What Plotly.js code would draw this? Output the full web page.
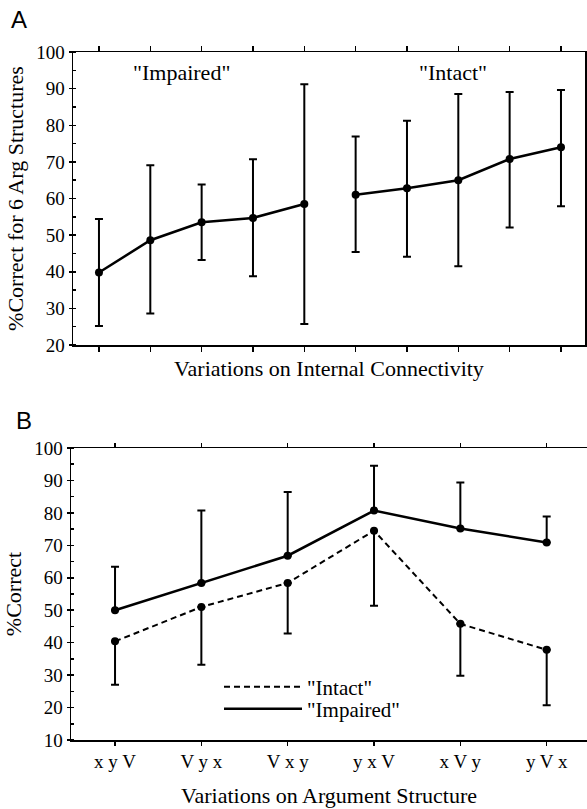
<!DOCTYPE html>
<html>
<head>
<meta charset="utf-8">
<script src="https://cdn.plot.ly/plotly-3.0.1.min.js"></script>
<style>html,body{margin:0;padding:0;background:#fff;}#chart{width:587px;height:809px;}</style>
</head>
<body>
<div id="chart"></div>
<script>
// Panel A: variations on internal connectivity (10 conditions)
const aX = [1, 2, 3, 4, 5, 6, 7, 8, 9, 10];
const aMean  = [39.8, 48.6, 53.5, 54.7, 58.5, 61.0, 62.8, 65.0, 70.8, 74.0];
const aUpper = [54.4, 69.1, 63.8, 70.7, 91.2, 76.9, 81.2, 88.5, 89.1, 89.6];
const aLower = [25.2, 28.6, 43.2, 38.8, 25.7, 45.4, 44.1, 41.5, 52.1, 57.9];
const aGroups = ['"Impaired"', '"Intact"'];

// Panel B: variations on argument structure
const bCats = ['x y V', 'V y x', 'V x y', 'y x V', 'x V y', 'y V x'];
const bImpaired      = [50.0, 58.4, 66.8, 80.7, 75.2, 70.9];
const bImpairedUpper = [63.4, 80.7, 86.4, 94.5, 89.4, 78.9];
const bIntact        = [40.4, 51.0, 58.4, 74.5, 45.8, 37.8];
const bIntactLower   = [27.0, 33.2, 42.8, 51.4, 29.8, 20.7];
const bNames = ['"Intact"', '"Impaired"'];

const serif = 'Liberation Serif, Times New Roman, serif';
const sans = 'Liberation Sans, Arial, sans-serif';
const sub = (a, b) => a.map((v, i) => v - b[i]);
const zeros = n => new Array(n).fill(0);
const intactDash = '6px,4px';

function aTrace(i0, i1) {
  const m = aMean.slice(i0, i1);
  return {
    x: aX.slice(i0, i1), y: m, xaxis: 'x', yaxis: 'y',
    mode: 'lines+markers', showlegend: false,
    line: {color: '#000', width: 2.5},
    marker: {color: '#000', size: 8},
    error_y: {type: 'data', symmetric: false,
      array: sub(aUpper.slice(i0, i1), m),
      arrayminus: sub(m, aLower.slice(i0, i1)),
      color: '#000', thickness: 2, width: 4}
  };
}

const traces = [
  aTrace(0, 5),
  aTrace(5, 10),
  {
    x: bCats, y: bIntact, xaxis: 'x2', yaxis: 'y2', name: bNames[0], showlegend: false,
    mode: 'lines+markers',
    line: {color: '#000', width: 2, dash: intactDash},
    marker: {color: '#000', size: 8},
    error_y: {type: 'data', symmetric: false,
      array: zeros(bIntact.length), arrayminus: sub(bIntact, bIntactLower),
      color: '#000', thickness: 2, width: 4}
  },
  {
    x: bCats, y: bImpaired, xaxis: 'x2', yaxis: 'y2', name: bNames[1], showlegend: false,
    mode: 'lines+markers',
    line: {color: '#000', width: 2.5},
    marker: {color: '#000', size: 8},
    error_y: {type: 'data', symmetric: false,
      array: sub(bImpairedUpper, bImpaired), arrayminus: zeros(bImpaired.length),
      color: '#000', thickness: 2, width: 4}
  },
  // legend entries (line samples only, as in the original key)
  {x: [null], y: [null], xaxis: 'x2', yaxis: 'y2', name: bNames[0], mode: 'lines',
   line: {color: '#000', width: 2, dash: intactDash}, legend: 'legend'},
  {x: [null], y: [null], xaxis: 'x2', yaxis: 'y2', name: bNames[1], mode: 'lines',
   line: {color: '#000', width: 2.5}, legend: 'legend2'}
];

const W = 587, H = 809;
const tickFont = {family: serif, size: 19, color: '#000'};
const titleFont = {family: serif, size: 22, color: '#000'};
const yCommon = {
  showgrid: false, zeroline: false, showline: true, linecolor: '#000', linewidth: 1.5,
  ticks: 'outside', ticklen: 3, tickwidth: 1.5, tickcolor: '#000', dtick: 10,
  tickfont: tickFont,
  minor: {dtick: 5, ticks: 'inside', ticklen: 3, tickwidth: 1.5, tickcolor: '#000'}
};
const legendBase = {
  xanchor: 'left', yanchor: 'middle', bgcolor: 'rgba(0,0,0,0)', itemwidth: 78,
  borderwidth: 0, font: {family: serif, size: 21, color: '#000'}
};

const layout = {
  width: W, height: H,
  margin: {l: 0, r: 0, t: 0, b: 0},
  paper_bgcolor: '#fff', plot_bgcolor: '#fff',
  font: {family: serif, color: '#000'},
  showlegend: true,
  legend: Object.assign({}, legendBase, {x: 219 / W, y: 1 - 687 / H}),
  legend2: Object.assign({}, legendBase, {x: 219 / W, y: 1 - 709 / H}),
  xaxis: {
    domain: [73 / W, 585 / W], range: [0.494, 10.468],
    tickvals: aX, showticklabels: false,
    showgrid: false, zeroline: false, showline: true, linecolor: '#000', linewidth: 1.5,
    mirror: 'ticks', ticks: 'outside', ticklen: 5, tickwidth: 1.5, tickcolor: '#000',
    title: {text: 'Variations on Internal Connectivity', font: titleFont, standoff: 10}
  },
  yaxis: Object.assign({}, yCommon, {
    domain: [1 - 345 / H, 1 - 52 / H], range: [20, 100], mirror: true,
    title: {text: '%Correct for 6 Arg Structures', font: titleFont, standoff: 6}
  }),
  xaxis2: {
    anchor: 'y2', domain: [71 / W, 1], range: [-0.51, 5.467],
    type: 'category', categoryorder: 'array', categoryarray: bCats,
    showgrid: false, zeroline: false, showline: true, linecolor: '#000', linewidth: 1.5,
    mirror: 'ticks', ticks: 'outside', ticklen: 4, tickwidth: 1.5, tickcolor: '#000',
    tickfont: tickFont,
    title: {text: 'Variations on Argument Structure', font: titleFont, standoff: 16}
  },
  yaxis2: Object.assign({}, yCommon, {
    anchor: 'x2', domain: [1 - 740 / H, 1 - 448 / H], range: [10, 100],
    title: {text: '%Correct', font: titleFont, standoff: 6}
  }),
  annotations: [
    {text: aGroups[0], x: 2.6, y: 94.5, xref: 'x', yref: 'y', showarrow: false,
     font: titleFont},
    {text: aGroups[1], x: 7.9, y: 94.5, xref: 'x', yref: 'y', showarrow: false,
     font: titleFont},
    {text: 'A', x: 19 / W, y: 1 - 20 / H, xref: 'paper', yref: 'paper', showarrow: false,
     xanchor: 'center', yanchor: 'middle', font: {family: sans, size: 24, color: '#000'}},
    {text: 'B', x: 24 / W, y: 1 - 420 / H, xref: 'paper', yref: 'paper', showarrow: false,
     xanchor: 'center', yanchor: 'middle', font: {family: sans, size: 24, color: '#000'}}
  ]
};

Plotly.newPlot('chart', traces, layout, {displayModeBar: false, staticPlot: true});
</script>
</body>
</html>
